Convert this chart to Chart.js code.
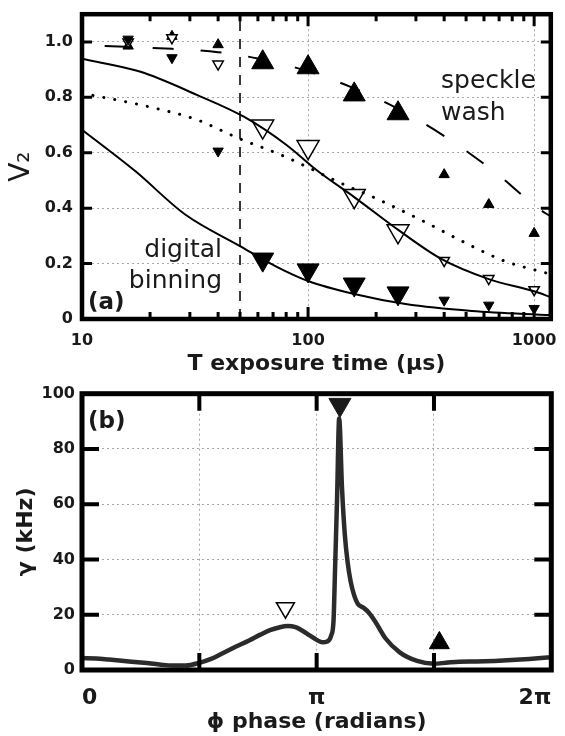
<!DOCTYPE html>
<html><head><meta charset="utf-8">
<script src="https://cdn.jsdelivr.net/npm/chart.js@4.4.1/dist/chart.umd.min.js"></script>
<style>
html,body{margin:0;padding:0;background:#fff;}
#wrap{position:relative;width:565px;height:736px;overflow:hidden;background:#fff;}
canvas{position:absolute;left:0;}
#ca{top:0;}
#cb{top:380px;}
</style></head><body>
<div id="wrap"><canvas id="ca" width="565" height="380"></canvas><canvas id="cb" width="565" height="356"></canvas></div>
<script>
// ---------- Panel (a) data ----------
const exposureT = [16, 25, 40, 63, 100, 160, 250, 400, 630, 1000];
const v2FilledUp = [0.985, 1.02, 0.99, 0.926, 0.908, 0.81, 0.742, 0.521, 0.413, 0.309];
const v2OpenDown = [1.0, 1.015, 0.92, 0.695, 0.621, 0.444, 0.317, 0.211, 0.146, 0.106];
const v2FilledDown = [1.01, 0.943, 0.606, 0.215, 0.176, 0.125, 0.093, 0.068, 0.05, 0.038];

const upperFitT = [10, 18, 32, 52, 80, 110, 160, 255, 390, 630, 1000, 1185];
const upperFitV = [0.939, 0.893, 0.81, 0.73, 0.629, 0.535, 0.44, 0.317, 0.216, 0.144, 0.10, 0.079];
const dottedFitT = [10, 20, 32, 50, 77, 140, 200, 320, 510, 735, 1140];
const dottedFitV = [0.815, 0.765, 0.72, 0.65, 0.59, 0.49, 0.435, 0.355, 0.27, 0.21, 0.165];
const lowerFitT = [10, 17.3, 28.5, 50, 72, 100, 160, 270, 530, 1185];
const lowerFitV = [0.683, 0.532, 0.378, 0.263, 0.19, 0.137, 0.09, 0.054, 0.029, 0.014];
const washT = [12.6, 25, 40, 60, 100, 157, 252, 408, 665, 1060, 1185];
const washV = [0.985, 0.975, 0.963, 0.94, 0.894, 0.835, 0.757, 0.656, 0.532, 0.395, 0.37];
const cutoffT = [50, 50];
const cutoffV = [0, 1.1];

const xTickValuesA = [10, 100, 1000];
const xTickLabelsA = ['10', '100', '1000'];
const xMinorA = [20, 30, 40, 50, 60, 70, 80, 90, 200, 300, 400, 500, 600, 700, 800, 900];
const yTickValuesA = [0, 0.2, 0.4, 0.6, 0.8, 1.0];
const yTickLabelsA = ['0', '0.2', '0.4', '0.6', '0.8', '1.0'];

// ---------- Panel (b) data ----------
const phaseOverPi = [0, 0.06, 0.115, 0.19, 0.264, 0.33, 0.384, 0.443, 0.5, 0.55, 0.593, 0.65, 0.712, 0.76, 0.801, 0.84, 0.876, 0.91, 0.936, 0.97, 1.0, 1.025, 1.045, 1.062, 1.072, 1.078, 1.087, 1.096, 1.108, 1.12, 1.132, 1.145, 1.16, 1.175, 1.2, 1.22, 1.25, 1.294, 1.354, 1.428, 1.5, 1.55, 1.607, 1.68, 1.757, 1.83, 1.906, 2.0];
const gammaKHz = [4.3, 4.2, 3.8, 3.2, 2.6, 2.0, 1.6, 1.6, 2.6, 4.0, 5.8, 8.2, 10.7, 12.8, 14.4, 15.4, 15.9, 15.5, 14.4, 12.5, 10.9, 10.0, 10.3, 12.5, 18, 35, 62, 91, 66, 49, 39, 32, 27, 24, 22.5, 21, 17.5, 11.4, 6.4, 3.3, 2.3, 2.6, 3.0, 3.1, 3.3, 3.6, 4.0, 4.6];
const openDownB = [0.867, 22.5];
const filledDownB = [1.099, 96];
const filledUpB = [1.523, 9.8];

const xTickValuesB = [0, 0.5, 1, 1.5, 2];
const xTickLabelsB = ['0', '', 'π', '', '2π'];
const yTickValuesB = [0, 20, 40, 60, 80, 100];
const yTickLabelsB = ['0', '20', '40', '60', '80', '100'];

// ---------- helpers ----------
const FONT = "'DejaVu Sans', sans-serif";
const TXT = '#1a1a1a';
const pts = (xs, ys) => xs.map((x, i) => ({x: x, y: ys[i]}));

function makeFrame(cfg) {
  return {
    id: 'frame',
    afterDraw(chart) {
      const ctx = chart.ctx, a = chart.chartArea;
      const xs = chart.scales.x, ys = chart.scales.y;
      ctx.save();
      ctx.strokeStyle = '#000';
      ctx.lineCap = 'butt';
      ctx.lineWidth = cfg.tickWidth;
      ctx.beginPath();
      cfg.xTicks.forEach(g => g.vals.forEach(v => {
        const p = xs.getPixelForValue(v);
        ctx.moveTo(p, a.top); ctx.lineTo(p, a.top + g.len);
        ctx.moveTo(p, a.bottom); ctx.lineTo(p, a.bottom - g.len);
      }));
      cfg.yTicks.forEach(g => g.vals.forEach(v => {
        const p = ys.getPixelForValue(v);
        ctx.moveTo(a.left, p); ctx.lineTo(a.left + g.len, p);
        ctx.moveTo(a.right, p); ctx.lineTo(a.right - g.len, p);
      }));
      ctx.stroke();
      ctx.lineWidth = cfg.frameWidth;
      ctx.strokeRect(a.left, a.top, a.right - a.left, a.bottom - a.top);
      ctx.fillStyle = TXT;
      ctx.textBaseline = 'alphabetic';
      cfg.texts.forEach(t => {
        ctx.font = t.font;
        ctx.textAlign = t.align;
        ctx.fillText(t.text, t.x, t.y);
      });
      ctx.restore();
    }
  };
}

const tickFont = (s) => ({family: FONT, size: s, weight: 'bold'});

// ---------- Chart (a) ----------
new Chart(document.getElementById('ca'), {
  type: 'scatter',
  data: {
    datasets: [
      {data: pts(upperFitT, upperFitV), showLine: true, borderColor: '#000', borderWidth: 2, pointRadius: 0, cubicInterpolationMode: 'monotone', order: 1},
      {data: pts(lowerFitT, lowerFitV), showLine: true, borderColor: '#000', borderWidth: 2, pointRadius: 0, cubicInterpolationMode: 'monotone', order: 1},
      {data: pts(dottedFitT, dottedFitV), showLine: true, borderColor: '#000', borderWidth: 3, borderDash: [0.1, 11], borderCapStyle: 'round', pointRadius: 0, cubicInterpolationMode: 'monotone', order: 1},
      {data: pts(washT, washV), showLine: true, borderColor: '#000', borderWidth: 2, borderDash: [21, 27], pointRadius: 0, cubicInterpolationMode: 'monotone', order: 1},
      {data: pts(cutoffT, cutoffV), showLine: true, borderColor: '#222', borderWidth: 1.8, borderDash: [10, 8], pointRadius: 0, order: 1},
      {data: pts(exposureT, v2FilledDown), pointStyle: 'triangle', pointRotation: 180,
        pointRadius: c => (c.dataIndex >= 3 && c.dataIndex <= 6) ? 12.7 : 6,
        pointBackgroundColor: '#000', pointBorderColor: '#000', pointBorderWidth: 1, order: 2},
      {data: pts(exposureT, v2OpenDown), pointStyle: 'triangle', pointRotation: 180,
        pointRadius: c => (c.dataIndex >= 3 && c.dataIndex <= 6) ? 12.7 : 6,
        pointBackgroundColor: '#fff', pointBorderColor: '#000', pointBorderWidth: 1.5, order: 3},
      {data: pts(exposureT, v2FilledUp), pointStyle: 'triangle', pointRotation: 0,
        pointRadius: c => (c.dataIndex >= 3 && c.dataIndex <= 6) ? 12.7 : 6,
        pointBackgroundColor: '#000', pointBorderColor: '#000', pointBorderWidth: 1, order: 4}
    ]
  },
  options: {
    responsive: false, animation: false, events: [],
    layout: {padding: {top: 12, right: 5, bottom: 0, left: 0}},
    plugins: {legend: {display: false}, tooltip: {enabled: false}},
    scales: {
      x: {
        type: 'logarithmic', min: 10, max: 1185,
        afterBuildTicks: s => { s.ticks = xTickValuesA.map(v => ({value: v})); },
        afterFit: s => { s.height = 61; s.paddingLeft = 0; s.paddingRight = 0; },
        grid: {drawTicks: false, color: '#a8a8a8', lineWidth: 1},
        border: {display: false, dash: [2, 3]},
        ticks: {callback: v => { const i = xTickValuesA.indexOf(v); return i < 0 ? '' : xTickLabelsA[i]; },
          autoSkip: false, maxRotation: 0, padding: 12, color: TXT, font: tickFont(16)},
        title: {display: true, text: 'T exposure time (μs)', color: TXT, padding: {top: 0, bottom: 3}, font: {family: FONT, size: 22, weight: 'bold'}}
      },
      y: {
        min: 0, max: 1.1,
        afterBuildTicks: s => { s.ticks = yTickValuesA.map(v => ({value: v})); },
        afterFit: s => { s.width = 82; s.paddingTop = 0; s.paddingBottom = 0; },
        grid: {drawTicks: false, color: '#a8a8a8', lineWidth: 1},
        border: {display: false, dash: [2, 3]},
        ticks: {callback: v => { const i = yTickValuesA.findIndex(t => Math.abs(t - v) < 1e-9); return i < 0 ? '' : yTickLabelsA[i]; },
          autoSkip: false, padding: 9, color: TXT, font: tickFont(16)},
        title: {display: true, text: 'V₂', color: TXT, padding: {top: 5, bottom: 0}, font: {family: FONT, size: 28, weight: 'normal'}}
      }
    }
  },
  plugins: [makeFrame({
    frameWidth: 4.5, tickWidth: 3,
    xTicks: [{vals: [100, 1000], len: 12}, {vals: xMinorA, len: 7}],
    yTicks: [{vals: [0.2, 0.4, 0.6, 0.8, 1.0], len: 10}],
    texts: [
      {text: '(a)', x: 88, y: 309, align: 'left', font: "bold 23px " + FONT},
      {text: 'digital', x: 222, y: 257, align: 'right', font: "25px " + FONT},
      {text: 'binning', x: 222, y: 288, align: 'right', font: "25px " + FONT},
      {text: 'speckle', x: 441, y: 88, align: 'left', font: "25px " + FONT},
      {text: 'wash', x: 441, y: 120, align: 'left', font: "25px " + FONT}
    ]
  })]
});

// ---------- Chart (b) ----------
new Chart(document.getElementById('cb'), {
  type: 'scatter',
  data: {
    datasets: [
      {data: pts(phaseOverPi, gammaKHz), showLine: true, borderColor: '#2b2b2b', borderWidth: 4.5, pointRadius: 0, cubicInterpolationMode: 'monotone', order: 1},
      {data: [{x: openDownB[0], y: openDownB[1]}], pointStyle: 'triangle', pointRotation: 180, pointRadius: 10.4,
        pointBackgroundColor: '#fff', pointBorderColor: '#000', pointBorderWidth: 1.5, order: 2},
      {data: [{x: filledDownB[0], y: filledDownB[1]}], pointStyle: 'triangle', pointRotation: 180, pointRadius: 12.7,
        pointBackgroundColor: '#1a1a1a', pointBorderColor: '#1a1a1a', pointBorderWidth: 1, order: 2},
      {data: [{x: filledUpB[0], y: filledUpB[1]}], pointStyle: 'triangle', pointRotation: 0, pointRadius: 11.5,
        pointBackgroundColor: '#000', pointBorderColor: '#000', pointBorderWidth: 1, order: 2}
    ]
  },
  options: {
    responsive: false, animation: false, events: [],
    layout: {padding: {top: 10, right: 2, bottom: 0, left: 0}},
    plugins: {legend: {display: false}, tooltip: {enabled: false}},
    scales: {
      x: {
        type: 'linear', min: 0, max: 2,
        afterBuildTicks: s => { s.ticks = xTickValuesB.map(v => ({value: v})); },
        afterFit: s => { s.height = 66; s.paddingLeft = 0; s.paddingRight = 0; },
        grid: {drawTicks: false, color: '#a8a8a8', lineWidth: 1},
        border: {display: false, dash: [2, 3]},
        ticks: {callback: v => { const i = xTickValuesB.findIndex(t => Math.abs(t - v) < 1e-9); return i < 0 ? '' : xTickLabelsB[i]; },
          autoSkip: false, maxRotation: 0, align: 'inner', padding: 15, color: TXT, font: tickFont(22)},
        title: {display: true, text: 'ϕ phase (radians)', color: TXT, padding: {top: 0, bottom: 1}, font: {family: FONT, size: 22, weight: 'bold'}}
      },
      y: {
        min: 0, max: 100,
        afterBuildTicks: s => { s.ticks = yTickValuesB.map(v => ({value: v})); },
        afterFit: s => { s.width = 82; s.paddingTop = 0; s.paddingBottom = 0; },
        grid: {drawTicks: false, color: '#a8a8a8', lineWidth: 1},
        border: {display: false, dash: [2, 3]},
        ticks: {callback: v => { const i = yTickValuesB.indexOf(v); return i < 0 ? '' : yTickLabelsB[i]; },
          autoSkip: false, padding: 7, color: TXT, font: tickFont(16)},
        title: {display: true, text: 'γ (kHz)', color: TXT, padding: {top: 13, bottom: 0}, font: {family: FONT, size: 22, weight: 'bold'}}
      }
    }
  },
  plugins: [makeFrame({
    frameWidth: 5, tickWidth: 4,
    xTicks: [{vals: [0.5, 1, 1.5], len: 17}],
    yTicks: [{vals: [20, 40, 60, 80], len: 17}],
    texts: [
      {text: '(b)', x: 88, y: 48, align: 'left', font: "bold 23px " + FONT}
    ]
  })]
});
</script>
</body></html>
